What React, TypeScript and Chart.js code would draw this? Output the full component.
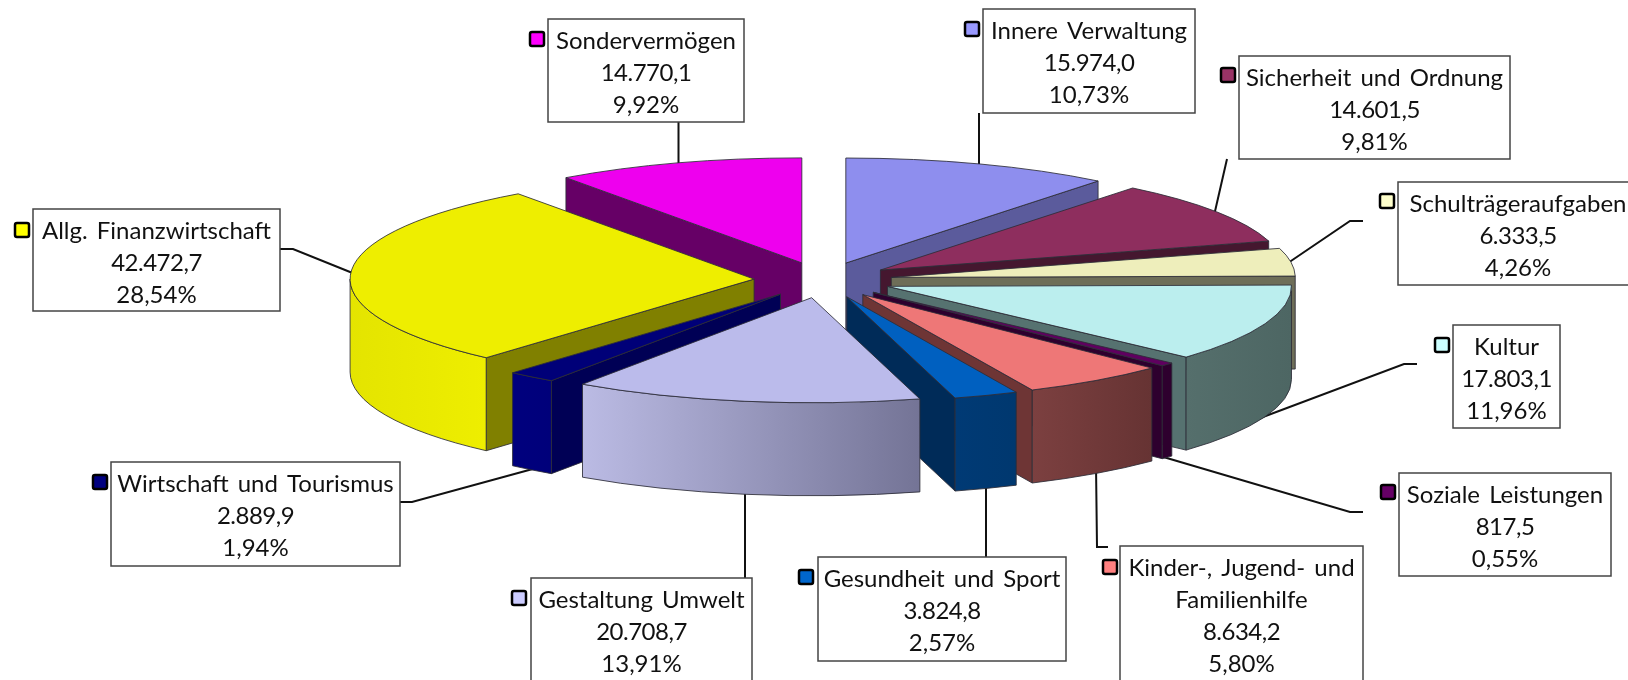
import React, { useEffect, useRef } from "react";
import { Chart, registerables } from "chart.js";

Chart.register(...registerables);

const categories = [
  "Innere Verwaltung",
  "Sicherheit und Ordnung",
  "Schulträgeraufgaben",
  "Kultur",
  "Soziale Leistungen",
  "Kinder-, Jugend- und\nFamilienhilfe",
  "Gesundheit und Sport",
  "Gestaltung Umwelt",
  "Wirtschaft und Tourismus",
  "Allg. Finanzwirtschaft",
  "Sondervermögen",
];
const amounts = [15974.0, 14601.5, 6333.5, 17803.1, 817.5, 8634.2, 3824.8, 20708.7, 2889.9, 42472.7, 14770.1];
const percents = [10.73, 9.81, 4.26, 11.96, 0.55, 5.8, 2.57, 13.91, 1.94, 28.54, 9.92];

const topColors = ["#8E8EEE", "#8E2E5E", "#EEEEBB", "#BBEEEE", "#5F005F", "#EE7777", "#0060C0", "#BBBBEB", "#000078", "#EEEE00", "#EE00EE"];
const keyColors = ["#9999FF", "#993366", "#FFFFCC", "#CCFFFF", "#660066", "#FF8080", "#0066CC", "#CCCCFF", "#000080", "#FFFF00", "#FF00FF"];
const radialWallColors = ["#5B5B9C", "#45172F", "#6E6E58", "#567270", "#2E002E", "#6E3535", "#002B58", "#777799", "#000055", "#808000", "#660066"];
const curvedWallLeft = ["#5B5B9C", "#45172F", "#6E6E58", "#556F6C", "#2E002E", "#7C4040", "#003A75", "#BBBBE4", "#00007E", "#E4E400", "#660066"];
const curvedWallRight = ["#5B5B9C", "#45172F", "#6E6E58", "#4D6663", "#2E002E", "#663333", "#00386F", "#747496", "#00007A", "#EEEE00", "#660066"];

// label layout: box [left, top, right, bottom], key [left, top], leader polyline
const labelBoxes = [
  [983, 9, 1195, 113],
  [1239, 56, 1510, 159],
  [1398, 182, 1638, 285],
  [1453, 325, 1560, 428],
  [1399, 473, 1611, 576],
  [1120, 546, 1363, 690],
  [818, 557, 1066, 661],
  [531, 578, 752, 700],
  [111, 462, 400, 566],
  [33, 209, 280, 311],
  [548, 19, 744, 122],
];
const keyOrigins = [
  [964, 21], [1220, 67], [1379, 193], [1434, 337], [1380, 484], [1102, 559], [798, 569], [511, 590], [92, 474], [14, 222], [529, 31],
];
const leaders = [
  [[979, 113], [979, 170]],
  [[1227, 159], [1213, 220]],
  [[1363, 221], [1350, 221], [1285, 265]],
  [[1417, 364], [1404, 364], [1215, 435]],
  [[1363, 512], [1350, 512], [1160, 456]],
  [[1108, 547], [1097, 547], [1096, 465]],
  [[986, 557], [986, 480]],
  [[745, 578], [745, 480]],
  [[400, 502], [412, 502], [540, 467]],
  [[280, 249], [293, 249], [360, 276]],
  [[678.5, 122], [678.5, 170]],
];

const TILT = 0.26;
const EXPLODE = 69;
const DEPTH = 93;
const EDGE = "rgba(45,45,55,0.85)";
const FONT = "24px Lato";
const LINE_GAP = 32;

const fmtAmount = new Intl.NumberFormat("de-DE", { minimumFractionDigits: 1, maximumFractionDigits: 1 });
const fmtPercent = (v: number) => v.toFixed(2).replace(".", ",") + "%";

function drawLeaders(ctx: CanvasRenderingContext2D) {
  ctx.strokeStyle = "#111";
  ctx.lineWidth = 2;
  for (const pts of leaders) {
    ctx.beginPath();
    pts.forEach((p, i) => (i ? ctx.lineTo(p[0], p[1]) : ctx.moveTo(p[0], p[1])));
    ctx.stroke();
  }
}

function drawSlice(ctx: CanvasRenderingContext2D, arc: any, i: number) {
  const { x, y, startAngle: a0, endAngle: a1, outerRadius: R } = arc;
  const mid = (a0 + a1) / 2;
  const ox = x + EXPLODE * Math.cos(mid);
  const oy = y + EXPLODE * TILT * Math.sin(mid);
  const rim = (a: number) => [ox + R * Math.cos(a), oy + R * TILT * Math.sin(a)];

  const radialWall = (a: number) => {
    const p = rim(a);
    ctx.beginPath();
    ctx.moveTo(ox, oy);
    ctx.lineTo(p[0], p[1]);
    ctx.lineTo(p[0], p[1] + DEPTH);
    ctx.lineTo(ox, oy + DEPTH);
    ctx.closePath();
    ctx.fillStyle = radialWallColors[i];
    ctx.fill();
    ctx.strokeStyle = EDGE;
    ctx.lineWidth = 1;
    ctx.stroke();
  };
  if (Math.sin(a0 + Math.PI / 2) < -0.001) radialWall(a0);
  if (Math.sin(a1 + Math.PI / 2) > 0.001) radialWall(a1);

  const s = Math.max(a0, 0);
  const e = Math.min(a1, Math.PI);
  if (e > s) {
    const p0 = rim(s);
    const p1 = rim(e);
    const left = Math.min(p0[0], p1[0]);
    const right = Math.max(p0[0], p1[0]);
    const g = ctx.createLinearGradient(left, 0, right, 0);
    g.addColorStop(0, curvedWallLeft[i]);
    g.addColorStop(1, curvedWallRight[i]);
    ctx.beginPath();
    ctx.ellipse(ox, oy, R, R * TILT, 0, s, e, false);
    ctx.lineTo(p1[0], p1[1] + DEPTH);
    ctx.ellipse(ox, oy + DEPTH, R, R * TILT, 0, e, s, true);
    ctx.closePath();
    ctx.fillStyle = g;
    ctx.fill();
    ctx.strokeStyle = EDGE;
    ctx.lineWidth = 1;
    ctx.stroke();
  }

  ctx.save();
  ctx.translate(ox, oy);
  ctx.scale(1, TILT);
  ctx.translate(-x, -y);
  arc.draw(ctx);
  ctx.restore();

  ctx.beginPath();
  ctx.moveTo(ox, oy);
  ctx.ellipse(ox, oy, R, R * TILT, 0, a0, a1, false);
  ctx.closePath();
  ctx.strokeStyle = EDGE;
  ctx.lineWidth = 1;
  ctx.stroke();
}

function drawLabels(ctx: CanvasRenderingContext2D) {
  categories.forEach((name, i) => {
    const [l, t, r, b] = labelBoxes[i];
    ctx.fillStyle = "#fff";
    ctx.fillRect(l, t, r - l, b - t);
    ctx.strokeStyle = "#444";
    ctx.lineWidth = 1.5;
    ctx.strokeRect(l, t, r - l, b - t);

    const [kx, ky] = keyOrigins[i];
    ctx.beginPath();
    ctx.roundRect(kx + 1, ky + 1, 14, 14, 2);
    ctx.fillStyle = keyColors[i];
    ctx.fill();
    ctx.strokeStyle = "#000";
    ctx.lineWidth = 2.5;
    ctx.stroke();

    const nameLines = name.split("\n");
    const lines = [...nameLines, fmtAmount.format(amounts[i]), fmtPercent(percents[i])];
    ctx.font = FONT;
    (ctx as any).wordSpacing = "3px";
    ctx.fillStyle = "#111";
    ctx.textAlign = "center";
    ctx.textBaseline = "alphabetic";
    lines.forEach((text, n) => {
      (ctx as any).letterSpacing = n === nameLines.length ? "-0.5px" : "0px";
      ctx.fillText(text, (l + r) / 2, t + 30 + n * LINE_GAP);
    });
    (ctx as any).letterSpacing = "0px";
  });
}

const explodedPie3D = {
  id: "explodedPie3D",
  beforeDatasetDraw(chart: any) {
    const ctx = chart.ctx as CanvasRenderingContext2D;
    const arcs = chart.getDatasetMeta(0).data as any[];
    drawLeaders(ctx);
    const order = arcs
      .map((arc, i) => ({ arc, i, depth: Math.sin((arc.startAngle + arc.endAngle) / 2) }))
      .sort((p, q) => p.depth - q.depth);
    order.forEach(({ arc, i }) => drawSlice(ctx, arc, i));
    drawLabels(ctx);
    return false;
  },
};

export default function App() {
  const ref = useRef<HTMLCanvasElement>(null);
  useEffect(() => {
    document.body.style.margin = "0";
    const chart = new Chart(ref.current!, {
      type: "pie",
      data: {
        labels: categories,
        datasets: [{ data: amounts, backgroundColor: topColors, borderWidth: 0 }],
      },
      options: {
        animation: false,
        responsive: false,
        radius: 404,
        layout: { padding: { left: 18, bottom: 120 } },
        plugins: { legend: { display: false }, tooltip: { enabled: false } },
      } as any,
      plugins: [explodedPie3D],
    });
    return () => chart.destroy();
  }, []);
  return (
    <div style={{ position: "fixed", left: 0, top: 0, width: 1628, height: 680, overflow: "hidden", background: "#fff" }}>
      <canvas ref={ref} width={1628} height={680} style={{ display: "block" }} />
    </div>
  );
}
